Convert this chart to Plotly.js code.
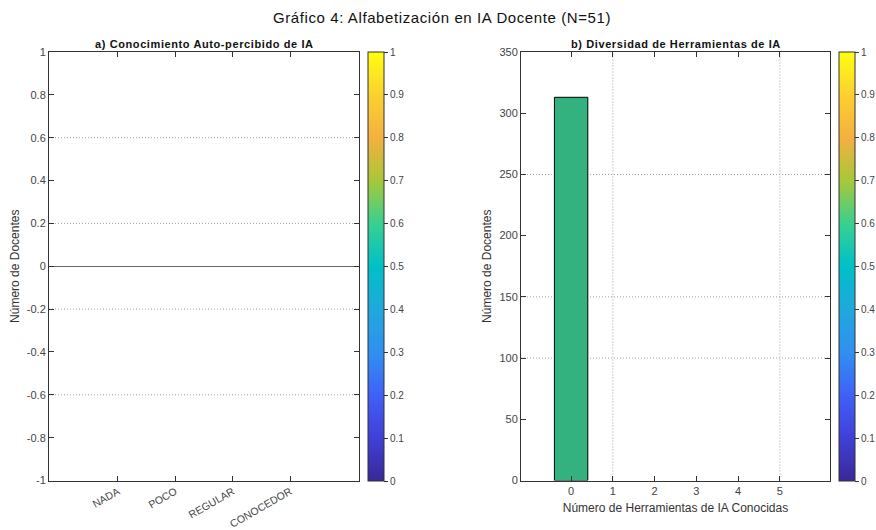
<!DOCTYPE html>
<html>
<head>
<meta charset="utf-8">
<script src="https://cdn.plot.ly/plotly-3.0.1.min.js"></script>
<style>
html,body{margin:0;padding:0;background:#fff;}
.gtitle{letter-spacing:0.6px;}
.annotation-text{letter-spacing:0.6px;}
</style>
</head>
<body>
<div id="chart" style="width:876px;height:530px;"></div>
<script>
// ---- data ----
var levelLabels = ['NADA', 'POCO', 'REGULAR', 'CONOCEDOR'];
var levelPos = [1, 2, 3, 4];
var levelCounts = [0, 0, 0, 0];

var toolVals = [0, 1, 2, 3, 4, 5];
var toolCounts = [313, 0, 0, 0, 0, 0];

var leftYTicks = [-1, -0.8, -0.6, -0.4, -0.2, 0, 0.2, 0.4, 0.6, 0.8, 1];
var leftYTickText = ['-1', '-0.8', '-0.6', '-0.4', '-0.2', '0', '0.2', '0.4', '0.6', '0.8', '1'];
var rightYTicks = [0, 50, 100, 150, 200, 250, 300, 350];
var cbarTicks = [0, 0.1, 0.2, 0.3, 0.4, 0.5, 0.6, 0.7, 0.8, 0.9, 1];
var cbarTickText = ['0', '0.1', '0.2', '0.3', '0.4', '0.5', '0.6', '0.7', '0.8', '0.9', '1'];

var leftGridY = [0.6, 0.2, -0.2, -0.6];
var rightGridY = [100, 150, 250];
var rightGridX = [1, 5];

// ---- style ----
var W = 876, H = 530;
var yTop = 52, yBot = 480.5;
var yDom = [1 - yBot / H, 1 - yTop / H];
var FONT = 'Liberation Sans, Arial, Helvetica, sans-serif';
var AX = '#333';
var TICKC = '#444';
var colorscale = [
  [0.00, '#3a2898'], [0.10, '#4040d8'], [0.20, '#4060f8'], [0.30, '#3090f0'],
  [0.40, '#20a8dc'], [0.50, '#00c0c8'], [0.60, '#38d090'], [0.70, '#a8c838'],
  [0.80, '#f4b040'], [0.90, '#fcd030'], [1.00, '#ffff10']
];

function cbar(xpx) {
  return {
    x: xpx / W, xanchor: 'left', xref: 'paper',
    y: 1 - yTop / H, yanchor: 'top', yref: 'paper',
    len: (yBot - yTop) / H, lenmode: 'fraction',
    thickness: 16, thicknessmode: 'pixels',
    xpad: 0, ypad: 0,
    outlinewidth: 1, outlinecolor: AX,
    ticks: 'outside', ticklen: 4, tickcolor: AX,
    tickmode: 'array', tickvals: cbarTicks, ticktext: cbarTickText,
    tickfont: {family: FONT, size: 10, color: TICKC}
  };
}

var axisBase = {
  showline: true, linecolor: AX, linewidth: 1, mirror: 'ticks',
  ticks: 'inside', ticklen: 5, tickcolor: AX,
  showgrid: false, zeroline: false, fixedrange: true,
  tickfont: {family: FONT, size: 11, color: TICKC}
};
function ax(o) { return Object.assign({}, axisBase, o); }

var traces = [
  {
    type: 'bar', x: levelPos, y: levelCounts, xaxis: 'x', yaxis: 'y', width: 0.8,
    marker: {color: levelCounts, coloraxis: 'coloraxis', line: {color: '#000', width: 0}},
    hoverinfo: 'skip', showlegend: false
  },
  {
    type: 'bar', x: [toolVals[0]], y: [toolCounts[0]], xaxis: 'x2', yaxis: 'y2', width: 0.8,
    marker: {color: '#33b27f', line: {color: '#000', width: 1}},
    hoverinfo: 'skip', showlegend: false
  },
  {
    type: 'bar', x: toolVals.slice(1), y: toolCounts.slice(1), xaxis: 'x2', yaxis: 'y2', width: 0.8,
    marker: {color: toolCounts.slice(1), coloraxis: 'coloraxis2', line: {color: '#000', width: 0}},
    hoverinfo: 'skip', showlegend: false
  }
];

var gridLine = {color: '#a0a0a0', width: 1, dash: '1px,2px'};
var shapes = [];
leftGridY.forEach(function (v) {
  shapes.push({type: 'line', layer: 'below', xref: 'x domain', yref: 'y', x0: 0, x1: 1, y0: v, y1: v, line: gridLine});
});
rightGridY.forEach(function (v) {
  shapes.push({type: 'line', layer: 'below', xref: 'x2 domain', yref: 'y2', x0: 0, x1: 1, y0: v, y1: v, line: gridLine});
});
rightGridX.forEach(function (v) {
  shapes.push({type: 'line', layer: 'below', xref: 'x2', yref: 'y2 domain', x0: v, x1: v, y0: 0, y1: 1, line: gridLine});
});

var layout = {
  width: W, height: H,
  margin: {l: 0, r: 0, t: 0, b: 0},
  paper_bgcolor: '#fff', plot_bgcolor: '#fff',
  font: {family: FONT, color: '#222'},
  barmode: 'overlay',
  hovermode: false,
  showlegend: false,
  title: {
    text: 'Gráfico 4: Alfabetización en IA Docente (N=51)',
    x: 442 / W, xanchor: 'center', xref: 'paper',
    y: 1 - 18 / H, yanchor: 'middle', yref: 'paper',
    font: {family: FONT, size: 15, color: '#111'}
  },
  xaxis: ax({
    domain: [49 / W, 359 / W], anchor: 'y',
    range: [-0.2, 5.2],
    tickmode: 'array', tickvals: levelPos, ticktext: levelLabels,
    tickangle: -30, tickfont: {family: FONT, size: 10.5, color: TICKC}
  }),
  yaxis: ax({
    domain: yDom, anchor: 'x',
    range: [-1, 1],
    tickmode: 'array', tickvals: leftYTicks, ticktext: leftYTickText,
    zeroline: true, zerolinecolor: '#666', zerolinewidth: 1,
    title: {text: 'Número de Docentes', standoff: 4, font: {family: FONT, size: 12, color: '#333'}}
  }),
  xaxis2: ax({
    domain: [521 / W, 830 / W], anchor: 'y2',
    range: [-1.2, 6.2],
    tickmode: 'array', tickvals: toolVals,
    title: {text: 'Número de Herramientas de IA Conocidas', standoff: 7, font: {family: FONT, size: 12, color: '#333'}}
  }),
  yaxis2: ax({
    domain: yDom, anchor: 'x2',
    range: [0, 350],
    tickmode: 'array', tickvals: rightYTicks,
    title: {text: 'Número de Docentes', standoff: 5, font: {family: FONT, size: 12, color: '#333'}}
  }),
  coloraxis: {cmin: 0, cmax: 1, colorscale: colorscale, colorbar: cbar(368)},
  coloraxis2: {cmin: 0, cmax: 1, colorscale: colorscale, colorbar: cbar(839)},
  shapes: shapes,
  annotations: [
    {
      text: '<b>a) Conocimiento Auto-percibido de IA</b>', showarrow: false,
      xref: 'paper', yref: 'paper', x: 204 / W, y: 1 - 44 / H, xanchor: 'center', yanchor: 'middle',
      font: {family: FONT, size: 11, color: '#111'}
    },
    {
      text: '<b>b) Diversidad de Herramientas de IA</b>', showarrow: false,
      xref: 'paper', yref: 'paper', x: 675.5 / W, y: 1 - 44 / H, xanchor: 'center', yanchor: 'middle',
      font: {family: FONT, size: 11, color: '#111'}
    }
  ]
};

Plotly.newPlot('chart', traces, layout, {displayModeBar: false, staticPlot: true});
</script>
</body>
</html>
